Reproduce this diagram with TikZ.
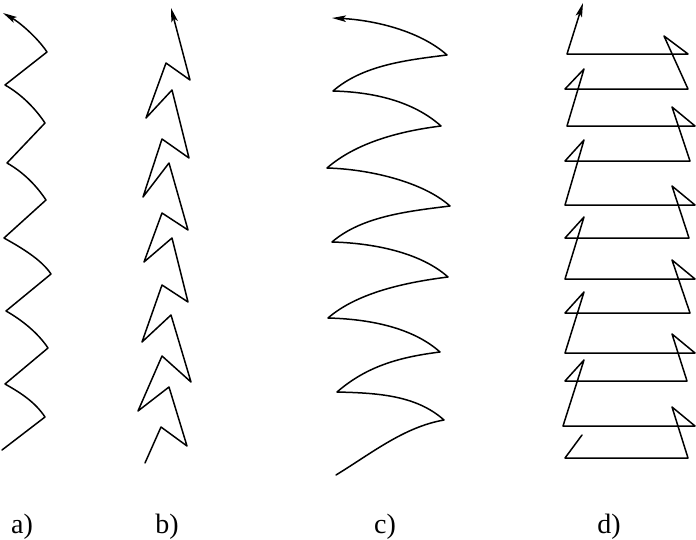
\documentclass[tikz,border=0pt]{standalone}
\usepackage{fontspec}
\setmainfont{Liberation Serif}
\usetikzlibrary{arrows.meta}
\begin{document}
\begin{tikzpicture}[x=1pt,y=-1pt,
  ln/.style={line width=1.5pt,line join=round,line cap=round},
  arr/.style={-{Stealth[length=14pt,width=6.5pt,inset=3pt]}},
  lab/.style={anchor=base,font=\fontsize{28}{30}\selectfont,inner sep=0pt}]
\useasboundingbox (0,0) rectangle (696,539);
% ---------- a)
\coordinate (a0) at (2,450);
\coordinate (aR1) at (45,417); \coordinate (aL1) at (5,384);
\coordinate (aR2) at (48,348); \coordinate (aL2) at (6,311);
\coordinate (aR3) at (51,274); \coordinate (aL3) at (4,238);
\coordinate (aR4) at (46,200); \coordinate (aL4) at (7,163);
\coordinate (aR5) at (45,123); \coordinate (aL5) at (5,85);
\coordinate (aR6) at (47,52);  \coordinate (aT) at (3,13);
\draw[ln,arr] (a0) -- (aR1)
  .. controls +(-10,-15) and +(16,9) .. (aL1) -- (aR2)
  .. controls +(-10,-15) and +(16,9) .. (aL2) -- (aR3)
  .. controls +(-10,-15) and +(16,9) .. (aL3) -- (aR4)
  .. controls +(-10,-15) and +(16,9) .. (aL4) -- (aR5)
  .. controls +(-10,-15) and +(16,9) .. (aL5) -- (aR6)
  .. controls +(-10,-15) and +(16,9) .. (aT);
% ---------- b)
\coordinate (b1) at (145,463);  \coordinate (b2) at (161,427);
\coordinate (b3) at (187,446);  \coordinate (b4) at (169,387);
\coordinate (b5) at (138,411);  \coordinate (b6) at (162,356);
\coordinate (b7) at (191,382);  \coordinate (b8) at (171,315);
\coordinate (b9) at (142,342);  \coordinate (b10) at (162,285);
\coordinate (b11) at (188,302); \coordinate (b12) at (172,238);
\coordinate (b13) at (144,262); \coordinate (b14) at (162,213);
\coordinate (b15) at (188,230); \coordinate (b16) at (169,163);
\coordinate (b17) at (143,197); \coordinate (b18) at (162,139);
\coordinate (b19) at (189,158); \coordinate (b20) at (172,90);
\coordinate (b21) at (146,118); \coordinate (b22) at (166,63);
\coordinate (b23) at (190,80);  \coordinate (b24) at (171,8);
\draw[ln,arr] (b1) -- (b2) -- (b3) -- (b4) -- (b5) -- (b6) -- (b7) -- (b8)
  -- (b9) -- (b10) -- (b11) -- (b12) -- (b13) -- (b14) -- (b15) -- (b16)
  -- (b17) -- (b18) -- (b19) -- (b20) -- (b21) -- (b22) -- (b23) -- (b24);
% ---------- c)
\coordinate (cS) at (336,475);
\coordinate (cR1) at (444,420); \coordinate (cL1) at (337,392);
\coordinate (cR2) at (440,352); \coordinate (cL2) at (328,318);
\coordinate (cR3) at (448,277); \coordinate (cL3) at (332,242);
\coordinate (cR4) at (450,206); \coordinate (cL4) at (327,168);
\coordinate (cR5) at (441,126); \coordinate (cL5) at (333,91);
\coordinate (cR6) at (447,55);  \coordinate (cT) at (332,18);
\draw[ln,arr] (cS)
  .. controls +(36,-22) and +(-40,7) .. (cR1)
  .. controls +(-28,-25) and +(40,1) .. (cL1)
  .. controls +(30,-26) and +(-40,5) .. (cR2)
  .. controls +(-28,-25) and +(40,1) .. (cL2)
  .. controls +(30,-26) and +(-40,5) .. (cR3)
  .. controls +(-28,-25) and +(40,1) .. (cL3)
  .. controls +(30,-26) and +(-40,5) .. (cR4)
  .. controls +(-28,-25) and +(40,1) .. (cL4)
  .. controls +(30,-26) and +(-40,5) .. (cR5)
  .. controls +(-28,-25) and +(40,1) .. (cL5)
  .. controls +(30,-26) and +(-40,5) .. (cR6)
  .. controls +(-28,-25) and +(40,2) .. (cT);
% ---------- d)
\coordinate (d1) at (582,435); \coordinate (d2) at (565,458);
\coordinate (d3) at (688,458); \coordinate (d4) at (672,407);
\coordinate (d5) at (695,426); \coordinate (d6) at (563,426);
\coordinate (d7) at (584,360); \coordinate (d8) at (565,381);
\coordinate (d9) at (687,381); \coordinate (d10) at (672,334);
\coordinate (d11) at (695,353); \coordinate (d12) at (565,353);
\coordinate (d13) at (584,292); \coordinate (d14) at (565,313);
\coordinate (d15) at (690,313); \coordinate (d16) at (672,260);
\coordinate (d17) at (695,279); \coordinate (d18) at (565,279);
\coordinate (d19) at (584,217); \coordinate (d20) at (565,238);
\coordinate (d21) at (689,238); \coordinate (d22) at (672,186);
\coordinate (d23) at (695,205); \coordinate (d24) at (565,205);
\coordinate (d25) at (584,140); \coordinate (d26) at (565,161);
\coordinate (d27) at (690,161); \coordinate (d28) at (672,107);
\coordinate (d29) at (695,126); \coordinate (d30) at (567,126);
\coordinate (d31) at (584,69);  \coordinate (d32) at (565,89);
\coordinate (d33) at (688,89);  \coordinate (d34) at (664,36);
\coordinate (d35) at (688,54);  \coordinate (d36) at (567,54);
\coordinate (d37) at (583,3);
\draw[ln,arr] (d1) -- (d2) -- (d3) -- (d4) -- (d5) -- (d6) -- (d7) -- (d8)
  -- (d9) -- (d10) -- (d11) -- (d12) -- (d13) -- (d14) -- (d15) -- (d16)
  -- (d17) -- (d18) -- (d19) -- (d20) -- (d21) -- (d22) -- (d23) -- (d24)
  -- (d25) -- (d26) -- (d27) -- (d28) -- (d29) -- (d30) -- (d31) -- (d32)
  -- (d33) -- (d34) -- (d35) -- (d36) -- (d37);
% ---------- labels
\node[lab] (la) at (22,533) {a)};
\node[lab] (lb) at (167,533) {b)};
\node[lab] (lc) at (385,533) {c)};
\node[lab] (ld) at (609,533) {d)};
\end{tikzpicture}
\end{document}
